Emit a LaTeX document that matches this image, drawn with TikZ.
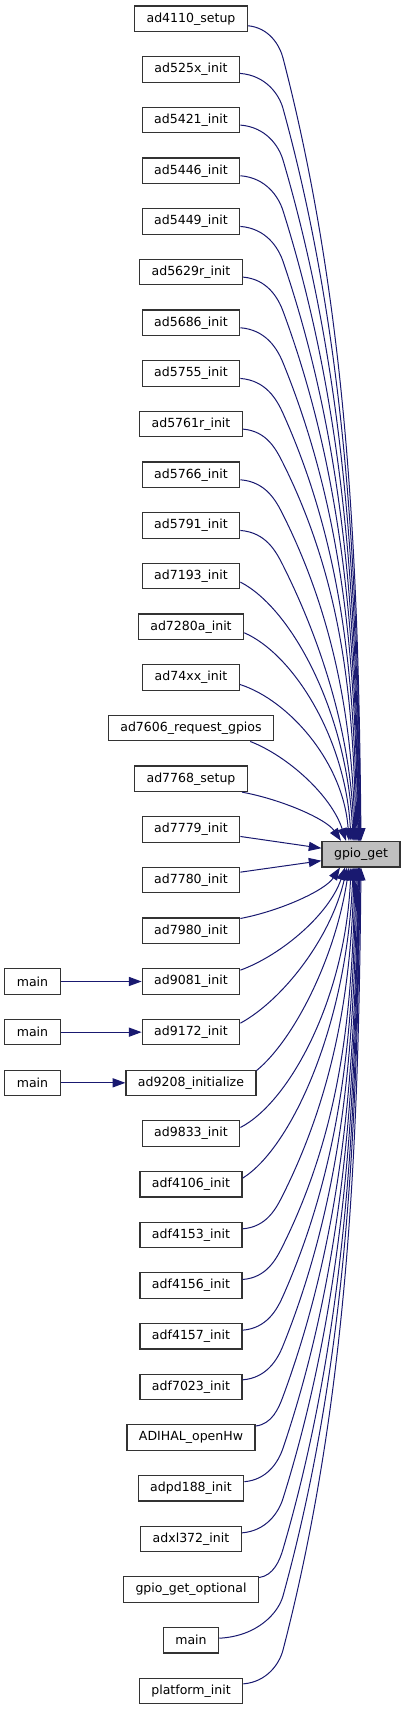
\documentclass[tikz,border=0pt]{standalone}
\usepackage{fontspec}
\setmainfont{DejaVu Sans}
\usetikzlibrary{arrows.meta,calc}
\definecolor{edgeblue}{HTML}{191970}
\definecolor{gpiogray}{HTML}{BFBFBF}
\newdimen\XA
\newdimen\YA
\newdimen\XB
\newdimen\YB
\begin{document}
\begin{tikzpicture}[x=0.75pt,y=-0.75pt,
  fn/.style={draw=black!80, line width=0.9pt, fill=white, inner xsep=9pt, inner ysep=0pt,
    minimum height=19.1pt, font=\fontsize{9.4pt}{11pt}\selectfont, text=black},
  edge/.style={draw=edgeblue, line width=0.75pt, -{Triangle[length=9.5pt,width=6.8pt]}}]
\fill[white] (0,0) rectangle (405,1709);
\useasboundingbox (0,0) rectangle (405,1709);

\foreach \i/\t in {0/ad4110\_setup, 1/ad525x\_init, 2/ad5421\_init, 3/ad5446\_init,
  4/ad5449\_init, 5/ad5629r\_init, 6/ad5686\_init, 7/ad5755\_init, 8/ad5761r\_init,
  9/ad5766\_init, 10/ad5791\_init, 11/ad7193\_init, 12/ad7280a\_init, 13/ad74xx\_init,
  14/ad7606\_request\_gpios, 15/ad7768\_setup, 16/ad7779\_init, 17/ad7780\_init,
  18/ad7980\_init, 19/ad9081\_init, 20/ad9172\_init, 21/ad9208\_initialize,
  22/ad9833\_init, 23/adf4106\_init, 24/adf4153\_init, 25/adf4156\_init,
  26/adf4157\_init, 27/adf7023\_init, 28/ADIHAL\_openHw, 29/adpd188\_init,
  30/adxl372\_init, 31/gpio\_get\_optional, 32/main, 33/platform\_init}
  \node[fn] (n\i) at (191,{18.75+50.67*\i}) {\t};

\foreach \i in {19,20,21}
  \node[fn] (m\i) at (32.5,{18.75+50.67*\i}) {main};

\node[fn, fill=gpiogray] (g) at (361,854.2) {gpio\_get};

% main -> callers
\foreach \i in {19,20,21}
  \draw[edge] (m\i) -- (n\i);

% start / end points
\foreach \i/\off/\eo in {0/7/0, 1/4/-0.5, 2/5/-1, 3/5/-1.5, 4/5/-2, 5/5/-2.5, 6/5/-3,
  7/5/-4, 8/5/-5, 9/5/-6, 10/5/-7, 11/6/-8, 12/6/-10, 13/7/-12}{
  \coordinate (s\i) at ($(n\i.east)+(0,\off)$);
  \coordinate (e\i) at ($(g.north)+(\eo,0)$);
}
\foreach \i/\off/\eo in {22/-6/-10, 23/-6/-8, 24/-6/-7, 25/-6/-6, 26/-6/-5, 27/-7/-4,
  28/-11.5/-3, 29/-6.5/-2.5, 30/-6/-2, 31/-12/-1.5, 32/-2/-1, 33/-7/0}{
  \coordinate (s\i) at ($(n\i.east)+(0,\off)$);
  \coordinate (e\i) at ($(g.south)+(\eo,0)$);
}
\coordinate (s14) at ($(n14.south east)+(-24,0)$);
\coordinate (s15) at ($(n15.south east)+(-6,0)$);
\coordinate (s18) at ($(n18.north east)+(0,1)$);
\coordinate (s19) at ($(n19.north east)+(0,2)$);
\coordinate (s20) at ($(n20.east)+(0,-9)$);
\coordinate (s21) at ($(n21.north east)+(0,1)$);
\coordinate (e14) at ($(g.north)+(-15,0)$);
\coordinate (e15) at ($(g.north)+(-20,0)$);
\coordinate (e18) at ($(g.south)+(-21,0)$);
\coordinate (e19) at ($(g.south)+(-16,0)$);
\coordinate (e20) at ($(g.south)+(-14,0)$);
\coordinate (e21) at ($(g.south)+(-12,0)$);
\coordinate (s16) at ($(n16.east)+(0,7)$);
\coordinate (e16) at ($(g.west)+(0,-6)$);
\coordinate (s17) at ($(n17.east)+(0,-8)$);
\coordinate (e17) at ($(g.west)+(0,6.5)$);

% two-piece curves (far callers)
\foreach \i/\sg in {0/1,1/1,2/1,3/1,4/1,5/1,6/1,7/1,8/1,9/1,10/1,
  24/-1,25/-1,26/-1,27/-1,28/-1,29/-1,30/-1,31/-1,32/-1,33/-1}{
  \pgfextractx{\XA}{\pgfpointanchor{s\i}{center}}
  \pgfextracty{\YA}{\pgfpointanchor{s\i}{center}}
  \pgfextractx{\XB}{\pgfpointanchor{e\i}{center}}
  \pgfextracty{\YB}{\pgfpointanchor{e\i}{center}}
  \pgfmathsetmacro\Sx{\XA/0.75}
  \pgfmathsetmacro\Sy{-\YA/0.75}
  \pgfmathsetmacro\Ex{\XB/0.75}
  \pgfmathsetmacro\Ey{-\YB/0.75}
  \pgfmathsetmacro\dxa{283-\Sx}
  \pgfmathsetmacro\dya{\sg*(0.35*\dxa+20)}
  \pgfmathsetmacro\By{\Sy+\dya}
  \pgfmathsetmacro\htwo{abs(\Ey-\By)}
  \pgfmathsetmacro\rr{(\Ex-283)/\htwo}
  \pgfmathsetmacro\ma{min(2.6*\rr,0.5)}
  \pgfmathsetmacro\mb{0.1*\rr}
  \pgfmathsetmacro\lenA{0.4*abs(\dya)}
  \draw[edge] (s\i) .. controls ({\Sx+0.6*\dxa},{\Sy+2*\sg}) and ({283-\ma*\lenA},{\By-\sg*\lenA}) ..
    (283,\By) .. controls ({283+\ma*\htwo/3},{\By+\sg*\htwo/3}) and ({\Ex-\mb*\htwo/3},{\Ey-\sg*\htwo/3}) .. (e\i);
}

% single cubic curves (middle-distance callers)
\foreach \i in {11,12,13,22,23}{
  \pgfextractx{\XA}{\pgfpointanchor{s\i}{center}}
  \pgfextracty{\YA}{\pgfpointanchor{s\i}{center}}
  \pgfextractx{\XB}{\pgfpointanchor{e\i}{center}}
  \pgfextracty{\YB}{\pgfpointanchor{e\i}{center}}
  \pgfmathsetmacro\Sx{\XA/0.75}
  \pgfmathsetmacro\Sy{-\YA/0.75}
  \pgfmathsetmacro\Ex{\XB/0.75}
  \pgfmathsetmacro\Ey{-\YB/0.75}
  \pgfmathsetmacro\ddx{\Ex-\Sx}
  \pgfmathsetmacro\ddy{\Ey-\Sy}
  \draw[edge] (s\i) .. controls ({\Sx+0.45*\ddx},{\Sy+0.1*\ddy}) and ({\Ex-0.05*\ddx},{\Ey-0.5*\ddy}) .. (e\i);
}

% single cubic curves (near callers)
\foreach \i in {14,15,18,19,20,21}{
  \pgfextractx{\XA}{\pgfpointanchor{s\i}{center}}
  \pgfextracty{\YA}{\pgfpointanchor{s\i}{center}}
  \pgfextractx{\XB}{\pgfpointanchor{e\i}{center}}
  \pgfextracty{\YB}{\pgfpointanchor{e\i}{center}}
  \pgfmathsetmacro\Sx{\XA/0.75}
  \pgfmathsetmacro\Sy{-\YA/0.75}
  \pgfmathsetmacro\Ex{\XB/0.75}
  \pgfmathsetmacro\Ey{-\YB/0.75}
  \pgfmathsetmacro\ddx{\Ex-\Sx}
  \pgfmathsetmacro\ddy{\Ey-\Sy}
  \draw[edge] (s\i) .. controls ({\Sx+0.4*\ddx},{\Sy+0.15*\ddy}) and ({\Ex-0.15*\ddx},{\Ey-0.45*\ddy}) .. (e\i);
}

% straight
\draw[edge] (s16) -- (e16);
\draw[edge] (s17) -- (e17);
\end{tikzpicture}
\end{document}
